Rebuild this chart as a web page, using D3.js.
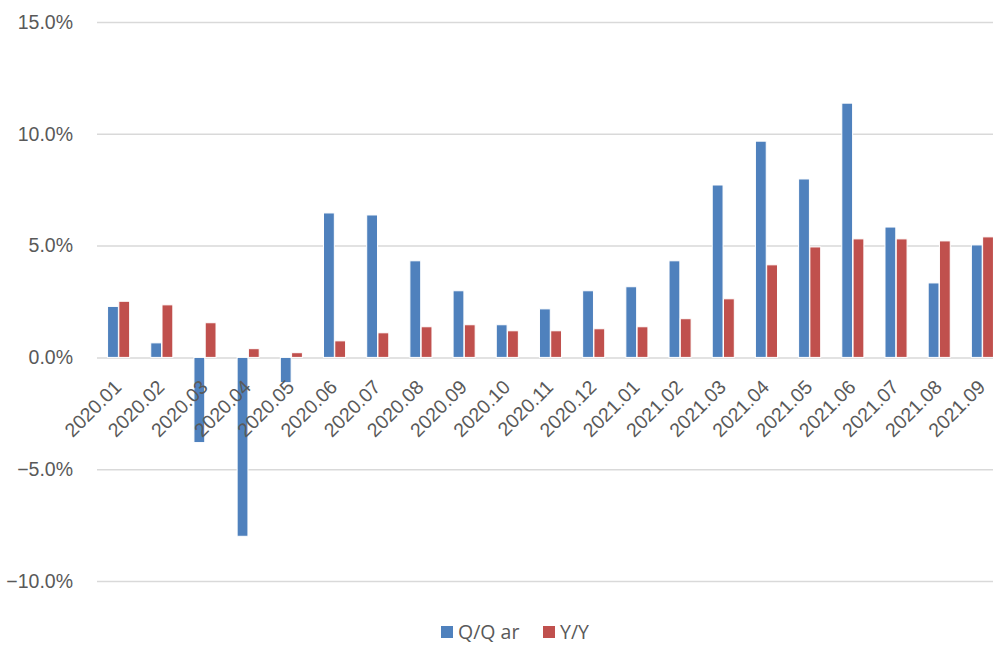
<!DOCTYPE html>
<html>
<head>
<meta charset="utf-8">
<script src="https://cdn.jsdelivr.net/npm/d3@7"></script>
<style>
  body { margin: 0; background: #fff; }
  svg { display: block; font-family: "Open Sans", sans-serif; }
  .tick text { fill: #595959; }
</style>
</head>
<body>
<svg width="993" height="645"></svg>
<script>
var months = ["2020.01", "2020.02", "2020.03", "2020.04", "2020.05", "2020.06", "2020.07",
    "2020.08", "2020.09", "2020.10", "2020.11", "2020.12", "2021.01", "2021.02",
    "2021.03", "2021.04", "2021.05", "2021.06", "2021.07", "2021.08", "2021.09"];
var qq = [2.28, 0.65, -3.81, -8.0, -1.13, 6.46, 6.37, 4.32, 2.98, 1.46, 2.17, 2.98,
    3.16, 4.32, 7.71, 9.67, 7.98, 11.37, 5.83, 3.33, 5.03];
var yy = [2.51, 2.35, 1.55, 0.39, 0.21, 0.74, 1.10, 1.37, 1.46, 1.19, 1.19, 1.28,
    1.37, 1.73, 2.62, 4.14, 4.94, 5.30, 5.30, 5.21, 5.39];
var seriesNames = ["Q/Q ar", "Y/Y"];
var colors = ["#4f81bd", "#c0504d"];
var yTicks = [-10, -5, 0, 5, 10, 15];

var svg = d3.select("svg");
var left = 97, right = 1004, gridRight = 993;

var y = d3.scaleLinear().domain([-10, 15]).range([581, 22]);

var x0 = d3.scaleBand()
    .domain(months)
    .range([left, right])
    .paddingInner(0.468)
    .paddingOuter(0.234);

var x1 = d3.scaleBand()
    .domain([0, 1])
    .range([0, x0.bandwidth()])
    .padding(0.04);

// y axis + gridlines
var yAxis = svg.append("g")
    .attr("transform", "translate(" + left + ",0)")
    .call(d3.axisLeft(y)
        .tickValues(yTicks)
        .tickSize(-(gridRight - left))
        .tickPadding(24)
        .tickFormat(function(d) { return d3.format(".1f")(d) + "%"; }));
yAxis.select(".domain").remove();
yAxis.selectAll(".tick line").attr("stroke", "#d9d9d9").attr("stroke-width", 1.5);
yAxis.selectAll(".tick text").style("font-size", "19.5px");

// bars
var rows = months.map(function(m, i) { return { m: m, v: [qq[i], yy[i]] }; });

var group = svg.append("g").selectAll("g")
    .data(rows)
    .enter().append("g")
    .attr("transform", function(d) { return "translate(" + x0(d.m) + ",0)"; });

group.selectAll("rect")
    .data(function(d) { return d.v.map(function(v, k) { return { k: k, v: v }; }); })
    .enter().append("rect")
    .attr("x", function(d) { return x1(d.k); })
    .attr("width", x1.bandwidth())
    .attr("y", function(d) { return y(Math.max(0, d.v)); })
    .attr("height", function(d) { return Math.abs(y(d.v) - y(0)); })
    .attr("fill", function(d) { return colors[d.k]; })
    .attr("stroke", "#fff")
    .attr("stroke-width", 1);

// x axis labels
var xAxis = svg.append("g")
    .attr("transform", "translate(0," + y(0) + ")")
    .call(d3.axisBottom(x0).tickSize(0).tickPadding(0));
xAxis.select(".domain").remove();
xAxis.selectAll(".tick text")
    .style("font-size", "19.5px")
    .attr("text-anchor", "end")
    .attr("dy", null)
    .attr("y", null)
    .attr("transform", "translate(4,31) rotate(-45)");

// legend
var legend = svg.append("g");
var legendItems = [{ x: 441, name: seriesNames[0], c: colors[0] },
                   { x: 543, name: seriesNames[1], c: colors[1] }];
legend.selectAll("rect")
    .data(legendItems)
    .enter().append("rect")
    .attr("x", function(d) { return d.x; })
    .attr("y", 626)
    .attr("width", 12)
    .attr("height", 12)
    .attr("fill", function(d) { return d.c; });
legend.selectAll("text")
    .data(legendItems)
    .enter().append("text")
    .attr("x", function(d) { return d.x + 17; })
    .attr("y", 639)
    .attr("fill", "#595959")
    .style("font-size", "19.5px")
    .text(function(d) { return d.name; });
</script>
</body>
</html>
